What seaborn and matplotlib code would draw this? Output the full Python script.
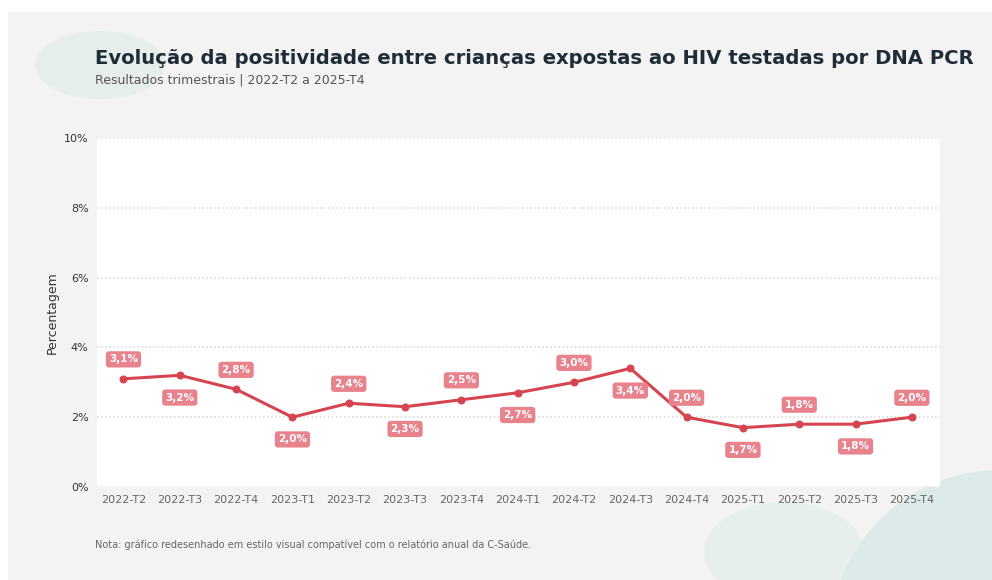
import numpy as np
import pandas as pd
import seaborn as sns
import matplotlib.pyplot as plt
from matplotlib.patches import Ellipse, Rectangle

# dados trimestrais
quarters = ["2022-T2", "2022-T3", "2022-T4", "2023-T1", "2023-T2", "2023-T3", "2023-T4",
            "2024-T1", "2024-T2", "2024-T3", "2024-T4", "2025-T1", "2025-T2", "2025-T3", "2025-T4"]
positivity = [3.1, 3.2, 2.8, 2.0, 2.4, 2.3, 2.5, 2.7, 3.0, 3.4, 2.0, 1.7, 1.8, 1.8, 2.0]
yticks = [0, 2, 4, 6, 8, 10]

df = pd.DataFrame({"trimestre": quarters, "pos": positivity})
df["x"] = np.arange(len(df))

sns.set_theme(style="white")
plt.rcParams['font.family'] = ['DejaVu Sans']

line_col = "#d6454f"
box_col = "#e8838d"

fig = plt.figure(figsize=(9.92, 5.8), dpi=100, facecolor="white")
W, H = 992, 580

# fundo cinza e círculos decorativos
fig.patches.append(Rectangle((8 / W, 0), 1, 1 - 12 / H, transform=fig.transFigure,
                             facecolor="#f3f3f3", edgecolor="none", zorder=-3))
fig.patches.append(Ellipse((100 / W, 1 - 65 / H), 130 / W, 68 / H, transform=fig.transFigure,
                           facecolor="#e5eee9", edgecolor="none", zorder=-2))
fig.patches.append(Ellipse((784 / W, 1 - 552 / H), 160 / W, 100 / H, transform=fig.transFigure,
                           facecolor="#e7efee", edgecolor="none", zorder=-2))
fig.patches.append(Ellipse((1000 / W, 1 - 640 / H), 340 / W, 340 / H, transform=fig.transFigure,
                           facecolor="#dcebea", edgecolor="none", zorder=-2))

ax = fig.add_axes([97 / W, 1 - 487 / H, (940 - 97) / W, (487 - 138) / H])
ax.set_zorder(2)
ax.set_facecolor("white")

sns.lineplot(data=df, x="x", y="pos", ax=ax, color=line_col, linewidth=2.2,
             marker="o", markersize=5, markeredgecolor=line_col, zorder=3)

for i, (x, y) in enumerate(zip(df["x"], df["pos"])):
    off = 14 if i % 2 == 0 else -16
    ax.annotate(f"{y:.1f}%".replace(".", ","), (x, y), xytext=(0, off), textcoords="offset points",
                ha="center", va="center", fontsize=7.5, fontweight="bold", color="white",
                bbox=dict(boxstyle="round,pad=0.3", facecolor=box_col, edgecolor="none"), zorder=4)

ax.set_xlim(-0.47, 14.5)
ax.set_ylim(0, 10)
ax.set_xticks(df["x"])
ax.set_xticklabels(quarters, fontsize=8, color="#666666")
ax.set_yticks(yticks)
ax.set_yticklabels([f"{t}%" for t in yticks], fontsize=8, color="#333333")
ax.tick_params(axis="both", length=0, pad=6)
ax.yaxis.grid(True, linestyle=":", color="#d4d4d4", linewidth=1.1)
ax.xaxis.grid(False)
for s in ax.spines.values():
    s.set_visible(False)
ax.set_xlabel("")
ax.set_ylabel("Percentagem", fontsize=9, color="#333333", labelpad=4)

fig.text(95 / W, 1 - 58 / H, "Evolução da positividade entre crianças expostas ao HIV testadas por DNA PCR",
         fontsize=14.1, fontweight="bold", color="#1f2d3a", va="center")
fig.text(95 / W, 1 - 80 / H, "Resultados trimestrais | 2022-T2 a 2025-T4",
         fontsize=9, color="#555555", va="center")
fig.text(95 / W, 1 - 545 / H,
         "Nota: gráfico redesenhado em estilo visual compatível com o relatório anual da C-Saúde.",
         fontsize=7, color="#666666", va="center")

fig.savefig("out.png", dpi=100, facecolor=fig.get_facecolor())
